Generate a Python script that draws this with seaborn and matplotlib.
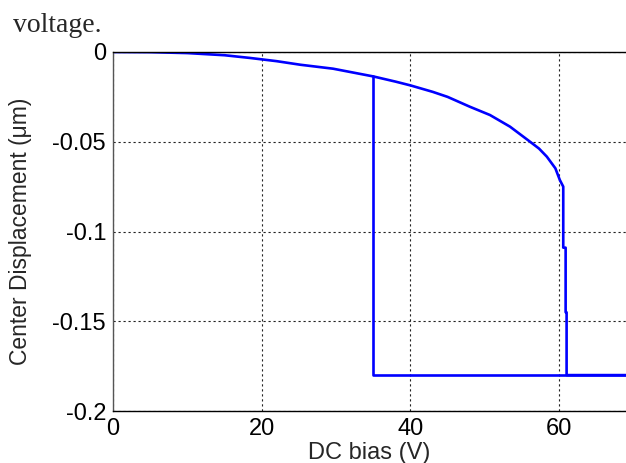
import matplotlib
matplotlib.use("Agg")
import matplotlib.pyplot as plt
import seaborn as sns
import pandas as pd

# Forward sweep (increasing bias): displacement follows the curve until pull-in
fwd_v = [0, 5, 10, 15, 18.4, 22, 25.2, 29.6, 35, 38, 40, 43, 45, 48, 50.7, 53.4,
         56.1, 57.3, 58.35, 59.5, 60.1, 60.56, 60.56, 60.88, 60.88, 61.01, 61.01, 69.5]
fwd_d = [0, -0.0001, -0.0006, -0.0018, -0.0033, -0.0051, -0.0071, -0.0093,
         -0.0136, -0.0165, -0.0186, -0.0222, -0.0250, -0.0305, -0.0351, -0.0416,
         -0.050, -0.0538, -0.0583, -0.0648, -0.0713, -0.075,
         -0.109, -0.109, -0.145, -0.145, -0.18, -0.18]
# Backward sweep (decreasing bias): stays pulled-in until release at 35 V
bwd_v = [69.5, 35, 35]
bwd_d = [-0.18, -0.18, -0.0136]

x_ticks = [0, 20, 40, 60]
y_ticks = [0, -0.05, -0.1, -0.15, -0.2]
y_tick_labels = ["0", "-0.05", "-0.1", "-0.15", "-0.2"]

df = pd.concat([
    pd.DataFrame({"V": fwd_v, "d": fwd_d, "sweep": "forward"}),
    pd.DataFrame({"V": bwd_v, "d": bwd_d, "sweep": "backward"}),
], ignore_index=True)

sns.set_style("white")
plt.rcParams["font.family"] = ["Liberation Sans", "DejaVu Sans"]
plt.rcParams["axes.unicode_minus"] = False

fig = plt.figure(figsize=(6.26, 4.63), dpi=100)
ax = fig.add_axes([113 / 626, 1 - 411 / 463, (626 - 113) / 626, 359 / 463])

for sweep in ["forward", "backward"]:
    sub = df[df["sweep"] == sweep]
    sns.lineplot(data=sub, x="V", y="d", sort=False, estimator=None,
                 color="#0000ff", linewidth=1.9, ax=ax, legend=False)

ax.set_xlim(0, 69.0)
ax.set_ylim(-0.2, 0)
ax.set_xticks(x_ticks)
ax.set_xticklabels([str(t) for t in x_ticks])
ax.set_yticks(y_ticks)
ax.set_yticklabels(y_tick_labels)

ax.grid(True, color="#222222", linestyle=(0, (2, 2.5)), linewidth=0.8)
ax.tick_params(direction="in", length=5, width=0.8, colors="#222222",
               labelsize=17, labelcolor="black", pad=5)
for s in ["top", "bottom", "left"]:
    ax.spines[s].set_visible(True)
    ax.spines[s].set_color("black")
    ax.spines[s].set_linewidth(1.0)
ax.spines["left"].set_color("#555555")
ax.spines["right"].set_visible(False)

ax.set_xlabel("DC bias (V)", fontsize=17)
ax.set_ylabel("Center Displacement (\u03bcm)", fontsize=16.5)
ax.xaxis.set_label_coords(0.5, -0.086)
ax.yaxis.set_label_coords(-0.157, 0.5)

fig.text(13 / 626, 1 - 32 / 463, "voltage.", fontsize=20,
         family=["Liberation Serif", "DejaVu Serif"], va="baseline", ha="left")

fig.savefig("out.png", dpi=100)
